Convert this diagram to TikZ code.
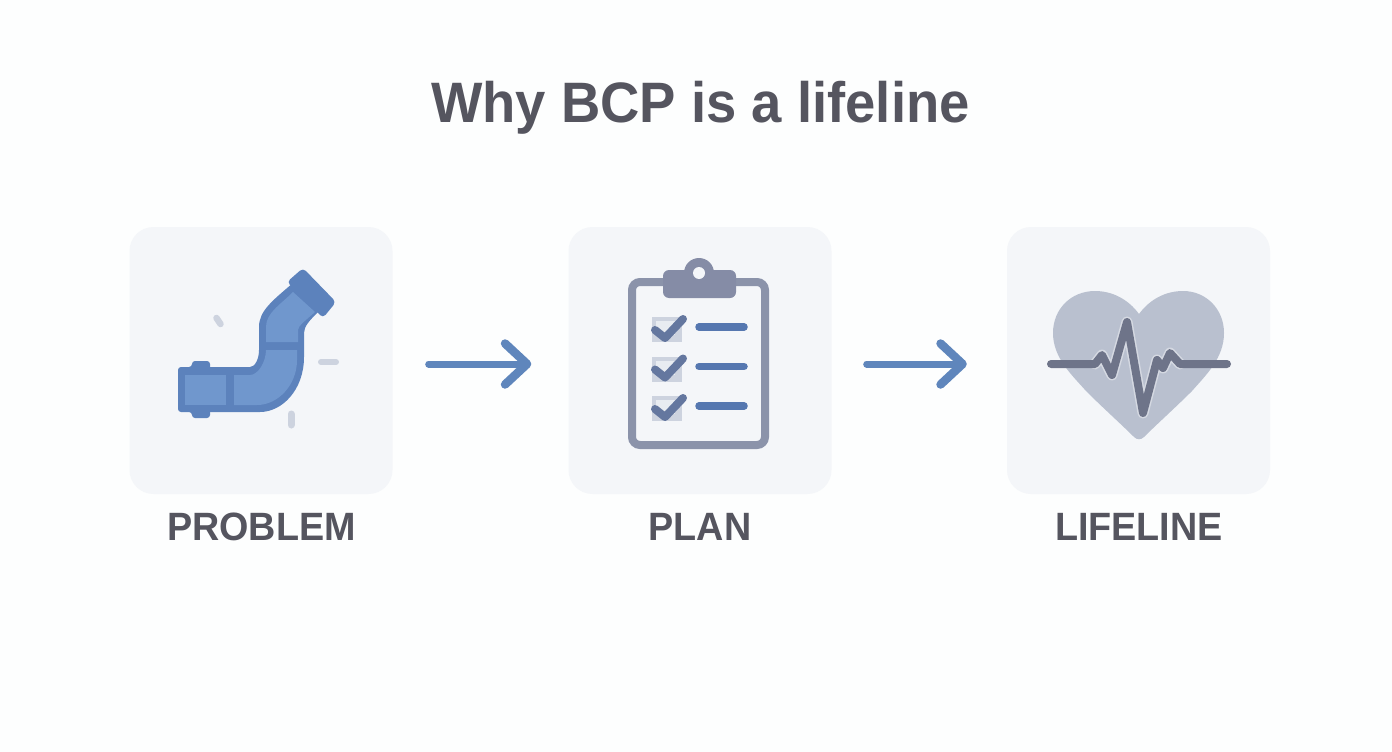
\documentclass[tikz,border=0pt]{standalone}
\usepackage{fontspec}
\setmainfont[FakeStretch=0.955]{Liberation Sans}
\usetikzlibrary{arrows.meta}
\definecolor{pagebg}{HTML}{FDFEFE}
\definecolor{boxbg}{HTML}{F4F6F9}
\definecolor{inktext}{HTML}{55555F}
\definecolor{flowblue}{HTML}{5F86BC}
\definecolor{pipedark}{HTML}{5C82BC}
\definecolor{pipelight}{HTML}{7097CD}
\definecolor{sparkgrey}{HTML}{CDD3DF}
\definecolor{clipgrey}{HTML}{8B93AA}
\definecolor{clipdark}{HTML}{858CA6}
\definecolor{tickblue}{HTML}{64779F}
\definecolor{rowblue}{HTML}{5577B0}
\definecolor{heartgrey}{HTML}{B9C0CF}
\definecolor{pulsegrey}{HTML}{6E7489}
\tikzset{
  iconbox/.style={fill=boxbg,rounded corners=24pt,minimum width=263pt,minimum height=267pt,inner sep=0pt},
  caption/.style={text=inktext,font=\bfseries\fontsize{39.5}{46}\selectfont,inner sep=0pt,anchor=base},
  flow/.style={draw=flowblue,line width=7pt,line cap=round,-{Straight Barb[length=22pt,width=41pt,line width=8.5pt,round]}},
  spark/.style={draw=sparkgrey,line cap=round},
}
\begin{document}
\begin{tikzpicture}[x=1pt,y=-1pt]
\fill[pagebg] (0,0) rectangle (1392,752);
\useasboundingbox (0,0) rectangle (1392,752);
\node[text=inktext,font=\bfseries\fontsize{57}{68}\selectfont,inner sep=0pt,anchor=base] (title) at (700.5,122) {Why BCP is a lifeline};
\node[iconbox] (problembox) at (261,360.5) {};
\node[iconbox] (planbox) at (700,360.5) {};
\node[iconbox] (lifelinebox) at (1138.5,360.5) {};
\node[caption] (problemlabel) at (261.5,540.5) {PROBLEM};
\node[caption] (planlabel) at (700,540.5) {PLAN};
\node[caption] (lifelinelabel) at (1139,540.5) {LIFELINE};
\draw[flow,shorten <=36pt,shorten >=37pt] ([yshift=-3.5pt]problembox.east) -- ([yshift=-3.5pt]planbox.west);
\draw[flow,shorten <=35pt,shorten >=40pt] ([yshift=-3.5pt]planbox.east) -- ([yshift=-3.5pt]lifelinebox.west);
% pipe
\fill[pipedark,rounded corners=3pt] (192,367) -- (192,361) -- (210,361) -- (210,418) -- (192,418) -- (192,412) -- (178,412) -- (178,367) -- cycle;
\fill[pipedark] (205,367) -- (250,367) .. controls (255,367) and (259,359) .. (259,350) -- (259,327)
  .. controls (259,311) and (272,301) .. (293,283) -- (320,310) .. controls (310,320) and (304,326) .. (304,333) -- (304,357)
  .. controls (304,390) and (282,412) .. (260,412) -- (205,412) -- cycle;
\fill[pipedark,rounded corners=4pt] (287,282) -- (303,268) -- (336,302) -- (323,318) -- cycle;
\fill[pipelight] (185,375) rectangle (226,405);
\fill[pipelight] (234,375) -- (250,375) .. controls (258,375) and (266,362) .. (266,350) -- (297,350) -- (297,360)
  .. controls (297,385) and (278,405) .. (257,405) -- (234,405) -- cycle;
\fill[pipelight] (266,342) -- (266,327) .. controls (266,313) and (280,305) .. (293,292) -- (315,312)
  .. controls (306,320) and (298,326) .. (298,330) -- (298,342) -- cycle;
\draw[spark,line width=6.5pt] (216.5,318) -- (220.5,324);
\draw[spark,line width=6pt] (321,362) -- (336,362);
\draw[spark,line width=7pt] (291,414) -- (291,425);
% clipboard
\draw[clipgrey,line width=8pt,rounded corners=8pt] (632,282) rectangle (765,445);
\fill[clipdark] (699,273) circle (15);
\fill[clipdark,rounded corners=6pt] (663,270) rectangle (736,298);
\fill[boxbg] (699,273) circle (6);
\foreach \rowy in {327,366.5,406}{
  \fill[sparkgrey] (652,\rowy-10) rectangle (682,\rowy+15);
  \fill[boxbg!70!sparkgrey] (656,\rowy-6) rectangle (675,\rowy+8);
  \draw[tickblue,line width=8pt,line cap=round,line join=round] (655,\rowy+3) -- (665,\rowy+11) -- (683,\rowy-8);
  \draw[rowblue,line width=7.5pt,line cap=round] (699,\rowy) -- (744,\rowy);
}
% heart
\path[save path=\heartpath] (1139,314) .. controls (1128,299) and (1112,291) .. (1095,291)
  .. controls (1071,291) and (1053,309) .. (1053,333) .. controls (1053,358) and (1072,375) .. (1086,391)
  .. controls (1102,407) and (1122,425) .. (1134,437) .. controls (1137,440) and (1141,440) .. (1144,437)
  .. controls (1156,425) and (1176,407) .. (1192,391) .. controls (1206,375) and (1224,358) .. (1224,333)
  .. controls (1224,309) and (1206,291) .. (1183,291) .. controls (1166,291) and (1150,299) .. (1139,314) -- cycle;
\fill[heartgrey,use path=\heartpath];
\begin{scope}
\clip[use path=\heartpath];
\draw[heartgrey!60!white,line width=11pt,line cap=round,line join=round] (1095,364) -- (1102,355) -- (1112,375) -- (1127,322) -- (1143,413) -- (1157,360) -- (1163,368) -- (1170,353) -- (1180,364);
\end{scope}
\draw[pulsegrey,line width=8pt,line cap=round,line join=round] (1051,364) -- (1095,364) -- (1102,355) -- (1112,375) -- (1127,322) -- (1143,413) -- (1157,360) -- (1163,368) -- (1170,353) -- (1180,364) -- (1227,364);
\end{tikzpicture}
\end{document}
